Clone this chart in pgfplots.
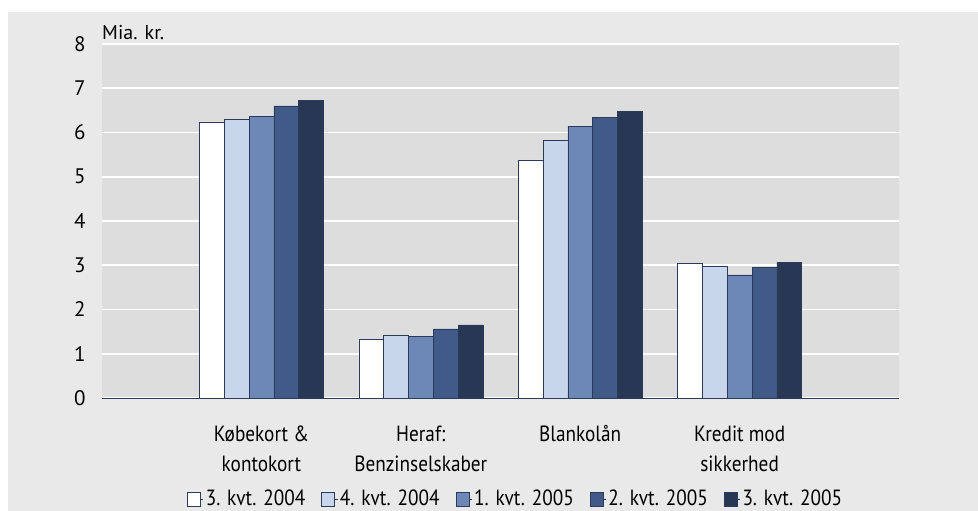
\documentclass[border=0pt]{standalone}
\usepackage{fontspec}
\setmainfont{PT Sans}
\newfontfamily\condfont{PT Sans}[FakeStretch=0.875]
\usepackage{pgfplots}
\pgfplotsset{compat=1.18}
\definecolor{outerbg}{HTML}{E9E9E9}
\definecolor{plotbg}{HTML}{DDDDDD}
\definecolor{edge}{HTML}{2A3A5A}
\definecolor{cA}{HTML}{FFFFFF}
\definecolor{cB}{HTML}{C7D6EA}
\definecolor{cC}{HTML}{6D88B6}
\definecolor{cD}{HTML}{415A87}
\definecolor{cE}{HTML}{283753}
\begin{document}
\begin{tikzpicture}
\useasboundingbox (0,0) rectangle (978bp,511bp);
\fill[outerbg] (8bp,0) rectangle (978bp,499bp);
\begin{axis}[
  at={(102bp,113bp)}, anchor=south west,
  scale only axis, width=797bp, height=354bp,
  xmin=0, xmax=5, ymin=0, ymax=8,
  ybar=0pt, bar width=24.8bp,
  axis background/.style={fill=plotbg},
  axis x line*=bottom, axis y line*=left,
  x axis line style={draw=edge, line width=0.9pt, -},
  y axis line style={draw=none},
  xtick={1,2,3,4},
  xticklabels={{Købekort \&\\kontokort},{Heraf:\\Benzinselskaber},{Blankolån},{Kredit mod\\sikkerhed}},
  xticklabel style={align=center, font=\condfont\fontsize{22bp}{30bp}\selectfont, yshift=-24bp},
  ytick={0,1,2,3,4,5,6,7,8},
  yticklabel style={font=\fontsize{21bp}{24bp}\selectfont, xshift=-13bp},
  /pgf/number format/assume math mode=true,
  major tick length=0pt,
  ymajorgrids, grid style={white, line width=2pt},
  legend columns=5,
  legend style={at={(0.519,-0.285)}, anchor=center, draw=none, fill=none,
    font=\condfont\fontsize{22bp}{26bp}\selectfont,
    /tikz/every odd column/.append style={column sep=0bp},
    /tikz/every even column/.append style={column sep=14bp}},
  legend image code/.code={\draw[#1, draw=edge, line width=0.6pt] (0bp,-7bp) rectangle (13bp,7bp);
    \path (13bp,0bp) -- (16bp,0bp);},
  every axis plot/.append style={draw=edge, line width=0.6pt},
  clip=false,
]
\addplot[fill=cA] coordinates {(1,6.24) (2,1.33) (3,5.38) (4,3.04)};
\addplot[fill=cB] coordinates {(1,6.30) (2,1.42) (3,5.82) (4,2.97)};
\addplot[fill=cC] coordinates {(1,6.36) (2,1.39) (3,6.13) (4,2.78)};
\addplot[fill=cD] coordinates {(1,6.60) (2,1.56) (3,6.35) (4,2.96)};
\addplot[fill=cE] coordinates {(1,6.73) (2,1.65) (3,6.47) (4,3.07)};
\legend{3. kvt. 2004,4. kvt. 2004,1. kvt. 2005,2. kvt. 2005,3. kvt. 2005}
\node[anchor=base west, inner sep=0pt, font=\fontsize{20bp}{24bp}\selectfont] at (rel axis cs:0,1) [yshift=5bp] {Mia. kr.};
\end{axis}
\end{tikzpicture}
\end{document}
